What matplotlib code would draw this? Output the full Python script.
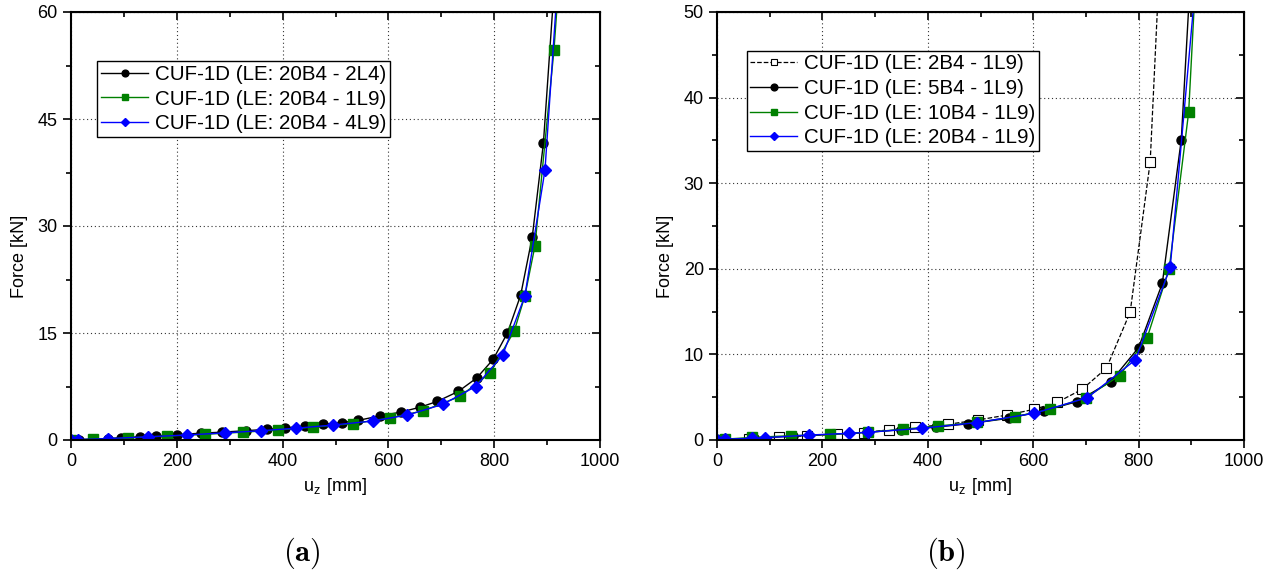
# force vs displacement, two panels (a) and (b)
import numpy as np
import matplotlib.pyplot as plt

plt.rcParams['font.family'] = ['Liberation Sans', 'DejaVu Sans']
plt.rcParams['mathtext.fontset'] = 'cm'

# ---- panel (a) data
a_x_2L4 = [0, 15, 70, 95, 130, 160, 200, 245, 285, 330, 370, 405, 442, 476, 512, 543,
           585, 623, 660, 692, 732, 767, 798, 825, 850, 872, 893, 912]
a_y_2L4 = [0, 0.05, 0.2, 0.3, 0.45, 0.55, 0.75, 0.95, 1.1, 1.3, 1.5, 1.7, 1.95, 2.2, 2.45, 2.75,
           3.4, 3.9, 4.6, 5.4, 6.8, 8.7, 11.3, 15.0, 20.3, 28.5, 41.6, 62]
a_x_1L9 = [0, 42, 108, 181, 253, 326, 392, 458, 534, 603, 665, 735, 792, 838, 858, 877, 913, 920]
a_y_1L9 = [0, 0.1, 0.3, 0.55, 0.8, 1.1, 1.4, 1.8, 2.3, 3.1, 4.07, 6.1, 9.35, 15.3, 20.2, 27.2, 54.7, 62]
a_x_4L9 = [0, 14, 70, 146, 219, 291, 359, 425, 496, 570, 636, 703, 765, 816, 858, 896, 918]
a_y_4L9 = [0, 0.05, 0.2, 0.45, 0.7, 1.0, 1.3, 1.65, 2.1, 2.66, 3.5, 5.0, 7.5, 11.9, 20.2, 37.85, 62]

# ---- panel (b) data
b_x_2B4 = [0, 60, 117, 170, 227, 279, 327, 375, 438, 495, 551, 602, 646, 693, 739, 784, 822, 840]
b_y_2B4 = [0, 0.15, 0.31, 0.5, 0.7, 0.86, 1.2, 1.48, 1.83, 2.34, 2.92, 3.59, 4.41, 5.93, 8.39, 14.94, 32.5, 56]
b_x_5B4 = [0, 70, 145, 215, 285, 350, 415, 477, 554, 621, 683, 747, 800, 845, 881, 900]
b_y_5B4 = [0, 0.2, 0.45, 0.65, 0.9, 1.2, 1.5, 1.9, 2.54, 3.43, 4.48, 6.82, 10.8, 18.3, 35.1, 56]
b_x_10B4 = [0, 15, 67, 140, 215, 286, 352, 419, 493, 566, 632, 700, 764, 816, 858, 895, 910]
b_y_10B4 = [0, 0.1, 0.3, 0.5, 0.66, 0.9, 1.25, 1.64, 2.05, 2.73, 3.59, 4.95, 7.53, 11.9, 20.0, 38.3, 56]
b_x_20B4 = [0, 15, 67, 92, 175, 251, 286, 389, 493, 602, 703, 794, 860, 912]
b_y_20B4 = [0, 0.1, 0.2, 0.27, 0.58, 0.78, 0.9, 1.37, 2.03, 3.12, 4.95, 9.36, 20.16, 56]

GREEN = '#008000'
BLUE = '#0000ff'
FS = 13


def style_axes(ax, ymax, ystep):
    ax.set_xlim(0, 1000)
    ax.set_ylim(0, ymax)
    ax.set_xticks(np.arange(0, 1001, 200))
    ax.set_xticks(np.arange(0, 1001, 100), minor=True)
    ax.set_yticks(np.arange(0, ymax + 0.1, ystep))
    ax.set_yticks(np.arange(0, ymax + 0.1, ystep / 2), minor=True)
    ax.tick_params(which='major', direction='out', length=6, width=1.2, labelsize=FS)
    ax.tick_params(which='minor', direction='out', length=3.5, width=1.2)
    ax.grid(True, which='major', linestyle=(0, (1, 2.5)), color='#333333', linewidth=0.8)
    for s in ax.spines.values():
        s.set_linewidth(1.5)
    # inward ticks on top and right
    top = ax.secondary_xaxis('top')
    top.set_xticks(np.arange(0, 1001, 200))
    top.set_xticks(np.arange(0, 1001, 100), minor=True)
    top.tick_params(which='major', direction='in', length=6, width=1.2, labeltop=False)
    top.tick_params(which='minor', direction='in', length=3.5, width=1.2)
    right = ax.secondary_yaxis('right')
    right.set_yticks(np.arange(0, ymax + 0.1, ystep))
    right.set_yticks(np.arange(0, ymax + 0.1, ystep / 2), minor=True)
    right.tick_params(which='major', direction='in', length=6, width=1.2, labelright=False)
    right.tick_params(which='minor', direction='in', length=3.5, width=1.2)
    ax.set_xlabel(r'u$_\mathregular{z}$ [mm]', fontsize=FS)
    ax.set_ylabel('Force [kN]', fontsize=FS)
    ax.yaxis.set_label_coords(-0.082, 0.43)


fig = plt.figure(figsize=(12.86, 5.81), dpi=100)
ax1 = fig.add_axes([71 / 1286, 141 / 581, 529 / 1286, 428 / 581])
ax2 = fig.add_axes([717 / 1286, 141 / 581, 527 / 1286, 428 / 581])

leg_kw = dict(loc='upper left', fontsize=14.8, frameon=True, fancybox=False, edgecolor='black',
              framealpha=1, borderpad=0.18, labelspacing=0.28, handlelength=2.3,
              handletextpad=0.3, markerscale=0.75, borderaxespad=0)

ax1.plot(a_x_2L4, a_y_2L4, '-o', color='black', lw=1, ms=6.5, label='CUF-1D (LE: 20B4 - 2L4)')
ax1.plot(a_x_1L9, a_y_1L9, '-s', color=GREEN, lw=1, ms=6.5, label='CUF-1D (LE: 20B4 - 1L9)')
ax1.plot(a_x_4L9, a_y_4L9, '-D', color=BLUE, lw=1, ms=6, label='CUF-1D (LE: 20B4 - 4L9)')
style_axes(ax1, 60, 15)
ax1.legend(bbox_to_anchor=(0.05, 0.885), **leg_kw)

ax2.plot(b_x_2B4, b_y_2B4, '--s', color='black', mfc='white', lw=0.9, ms=6.5, mew=0.8,
         label='CUF-1D (LE: 2B4 - 1L9)')
ax2.plot(b_x_5B4, b_y_5B4, '-o', color='black', lw=1, ms=6.5, label='CUF-1D (LE: 5B4 - 1L9)')
ax2.plot(b_x_10B4, b_y_10B4, '-s', color=GREEN, lw=1, ms=6.5, label='CUF-1D (LE: 10B4 - 1L9)')
ax2.plot(b_x_20B4, b_y_20B4, '-D', color=BLUE, lw=1, ms=6, label='CUF-1D (LE: 20B4 - 1L9)')
style_axes(ax2, 50, 10)
ax2.legend(bbox_to_anchor=(0.056, 0.91), **leg_kw)

fig.text(302 / 1286, 1 - 553 / 581, r'$\mathbf{(a)}$', fontsize=22, ha='center', va='center')
fig.text(946 / 1286, 1 - 553 / 581, r'$\mathbf{(b)}$', fontsize=22, ha='center', va='center')

fig.savefig('out.png', dpi=100)
